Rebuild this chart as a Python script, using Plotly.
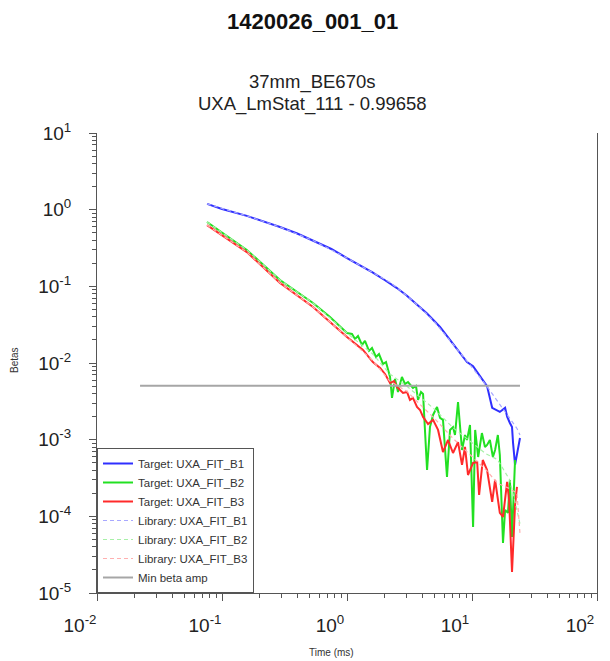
import plotly.graph_objects as go

# ---------------- data ----------------
b1_time = [0.076, 0.1, 0.158, 0.2, 0.291, 0.4, 0.535, 0.75, 1.0, 1.27, 1.6, 2.0, 2.51, 3.0, 3.38,
           4.37, 5.55, 7.05, 8.3, 9.12, 10.2, 11.6, 13.2, 14.5, 16.7, 18.4, 19.1, 20.1, 20.9, 21.3,
           22.1, 24.2]
b1_vals = [1.19, 1.02, 0.83, 0.733, 0.594, 0.489, 0.396, 0.307, 0.234, 0.190, 0.152, 0.121, 0.095,
           0.076, 0.064, 0.0443, 0.0295, 0.0177, 0.0123, 0.0103, 0.0091, 0.0068, 0.0050, 0.0026,
           0.0023, 0.0026, 0.0020, 0.00165, 0.00146, 0.00091, 0.00047, 0.00105]

b2_time = [0.0759, 0.158, 0.291, 0.535, 0.731, 0.879, 1.0, 1.096, 1.159, 1.225, 1.318, 1.393, 1.5,
           1.585, 1.706, 1.803, 1.941, 2.051, 2.21, 2.291, 2.421, 2.559, 2.75, 2.911, 3.076, 3.37,
           3.565, 3.70, 3.908, 4.06, 4.37, 4.61, 4.88, 5.25, 5.55, 5.86, 6.31, 6.67, 7.05, 7.31,
           7.73, 8.32, 8.79, 9.12, 9.64, 10.2, 10.6, 11.2, 12.0, 12.7, 13.2, 13.9, 14.7, 15.3,
           16.1, 16.7, 17.7, 18.4, 19.4, 20.1, 20.9, 22.1]
b2_vals = [0.690, 0.298, 0.121, 0.0607, 0.0398, 0.0295, 0.0246, 0.0239, 0.0206, 0.0225, 0.0172,
           0.0194, 0.0144, 0.0157, 0.0120, 0.0131, 0.00971, 0.0103, 0.00657, 0.00350, 0.00618,
           0.00419, 0.00657, 0.00532, 0.00565, 0.00472, 0.00501, 0.00330, 0.00419, 0.00394,
           0.000402, 0.00146, 0.00210, 0.00267, 0.00192, 0.00181, 0.000326, 0.00134, 0.00146,
           0.00115, 0.00310, 0.000733, 0.00115, 0.00099, 0.00155, 0.0000726, 0.00134, 0.000594,
           0.00122, 0.000803, 0.000853, 0.00099, 0.000594, 0.000733, 0.00115, 0.000631,
           0.0000449, 0.000121, 0.000111, 0.000298, 0.0000538, 0.000543]

b3_time = [0.0759, 0.158, 0.291, 0.535, 0.731, 1.0, 1.343, 1.61, 1.84, 2.014, 2.21, 2.377, 2.51,
           2.805, 3.02, 3.19, 3.37, 3.63, 3.84, 4.06, 4.45, 4.88, 5.35, 5.86, 6.43, 7.05, 7.73,
           8.32, 8.79, 9.29, 10.2, 11.0, 11.4, 12.2, 13.2, 14.5, 15.3, 16.7, 17.7, 19.1, 19.8,
           20.9, 22.1, 22.9]
b3_vals = [0.63, 0.28, 0.111, 0.0538, 0.0343, 0.0218, 0.0148, 0.0103, 0.00861, 0.00719, 0.00548,
           0.00582, 0.00486, 0.00406, 0.00419, 0.00330, 0.00350, 0.00267, 0.00244, 0.00198,
           0.00160, 0.00181, 0.00134, 0.00069, 0.00099, 0.00067, 0.00093, 0.000468, 0.000803,
           0.000346, 0.000497, 0.000512, 0.000190, 0.000543, 0.000402, 0.000154, 0.000298,
           0.000111, 0.0000980, 0.000281, 0.000163, 0.0000188, 0.000141, 0.000242]

lib_time = [0.0759, 0.158, 0.291, 0.535, 1.0, 1.6, 2.2, 3.0, 4.0, 5.0, 7.0, 10.0, 13.0, 16.0,
            20.0, 22.9, 24.2]
lib_b1 = [1.19, 0.83, 0.594, 0.396, 0.234, 0.152, 0.113, 0.076, 0.050, 0.0345, 0.0180, 0.0088,
          0.0051, 0.0032, 0.0019, 0.0014, 0.00115]
lib_b2 = [0.69, 0.298, 0.121, 0.0607, 0.0246, 0.0132, 0.0072, 0.0050, 0.0034, 0.0025, 0.00145,
          0.00090, 0.00065, 0.00055, 0.00030, 0.00012, 0.00008]
lib_b3 = [0.63, 0.28, 0.111, 0.0538, 0.0218, 0.0108, 0.0058, 0.0043, 0.0027, 0.0019, 0.00105,
          0.00060, 0.00040, 0.00027, 0.00023, 0.00020, 0.00006]

min_beta_time = [0.0221, 24.2]
min_beta_amp = 0.00506

x_tick_exp = [-2, -1, 0, 1, 2]
y_tick_exp = [-5, -4, -3, -2, -1, 0, 1]

# ---------------- figure ----------------
FONT = "Arial, 'Liberation Sans', sans-serif"
fig = go.Figure()

def line(x, y, name, color, width, dash="solid"):
    fig.add_trace(go.Scatter(x=x, y=y, mode="lines", name=name,
                             line=dict(color=color, width=width, dash=dash)))

line(b1_time, b1_vals, "Target: UXA_FIT_B1", "#2f2fff", 2)
line(b2_time, b2_vals, "Target: UXA_FIT_B2", "#22e022", 2)
line(b3_time, b3_vals, "Target: UXA_FIT_B3", "#ff2a2a", 2)
line(lib_time, lib_b1, "Library: UXA_FIT_B1", "#a8a8ff", 1.2, "4px,3px")
line(lib_time, lib_b2, "Library: UXA_FIT_B2", "#a8f0a8", 1.2, "4px,3px")
line(lib_time, lib_b3, "Library: UXA_FIT_B3", "#ffb0b0", 1.2, "4px,3px")
line(min_beta_time, [min_beta_amp, min_beta_amp], "Min beta amp", "#a6a6a6", 2)

def minor_vals(exps):
    return [m * 10.0 ** e for e in exps[:-1] for m in range(2, 10)]

def sup_text(e):
    return "10<sup>%d</sup>" % e

axis_common = dict(type="log", showgrid=False, zeroline=False, showline=True,
                   linecolor="#555555", linewidth=1, ticks="outside", ticklen=7,
                   tickcolor="#555555", tickfont=dict(family=FONT, size=19, color="#222222"))

fig.update_xaxes(**axis_common, range=[-2, 2], tickmode="array",
                 tickvals=[10.0 ** e for e in x_tick_exp],
                 ticktext=[sup_text(e) for e in x_tick_exp],
                 ticklabelshift=-17, ticklabelstandoff=8, ticklabeloverflow="allow",
                 minor=dict(tickmode="array", tickvals=minor_vals(x_tick_exp), ticks="outside",
                            ticklen=4, tickcolor="#555555", showgrid=False))
fig.update_yaxes(**axis_common, range=[-5, 1], tickmode="array", mirror=True,
                 tickvals=[10.0 ** e for e in y_tick_exp],
                 ticktext=[sup_text(e) for e in y_tick_exp],
                 ticklabelstandoff=14, ticklabeloverflow="allow",
                 minor=dict(tickmode="array", tickvals=minor_vals(y_tick_exp), ticks="outside",
                            ticklen=4, tickcolor="#555555", showgrid=False))

PL, PR, PT, PB = 97, 597, 133, 593
W, H = 610, 661

def px(x):
    return (x - PL) / (PR - PL)

def py(y):
    return (PB - y) / (PB - PT)

annotations = [
    dict(text="<b>1420026_001_01</b>", x=px(312), y=py(22), font=dict(size=22, color="#111111")),
    dict(text="37mm_BE670s", x=px(312), y=py(82), font=dict(size=18.5, color="#222222")),
    dict(text="UXA_LmStat_111 - 0.99658", x=px(312), y=py(104), font=dict(size=18.5, color="#222222")),
    dict(text="Time (ms)", x=px(331), y=py(652), font=dict(size=10, color="#333333")),
    dict(text="Betas", x=px(14), y=py(360), textangle=-90, font=dict(size=10, color="#333333")),
]
for a in annotations:
    a.update(xref="paper", yref="paper", showarrow=False, xanchor="center", yanchor="middle")
    a["font"]["family"] = FONT

fig.update_layout(
    width=W, height=H, autosize=False,
    margin=dict(l=PL, r=W - PR, t=PT, b=H - PB, pad=0),
    paper_bgcolor="white", plot_bgcolor="white",
    font=dict(family=FONT, color="#222222"),
    showlegend=True,
    legend=dict(x=0, y=0, xanchor="left", yanchor="bottom", bgcolor="white",
                bordercolor="#555555", borderwidth=1, font=dict(size=11.5, color="#333333"),
                tracegroupgap=0, itemwidth=30),
    annotations=annotations,
)

fig.write_html("out.html")
